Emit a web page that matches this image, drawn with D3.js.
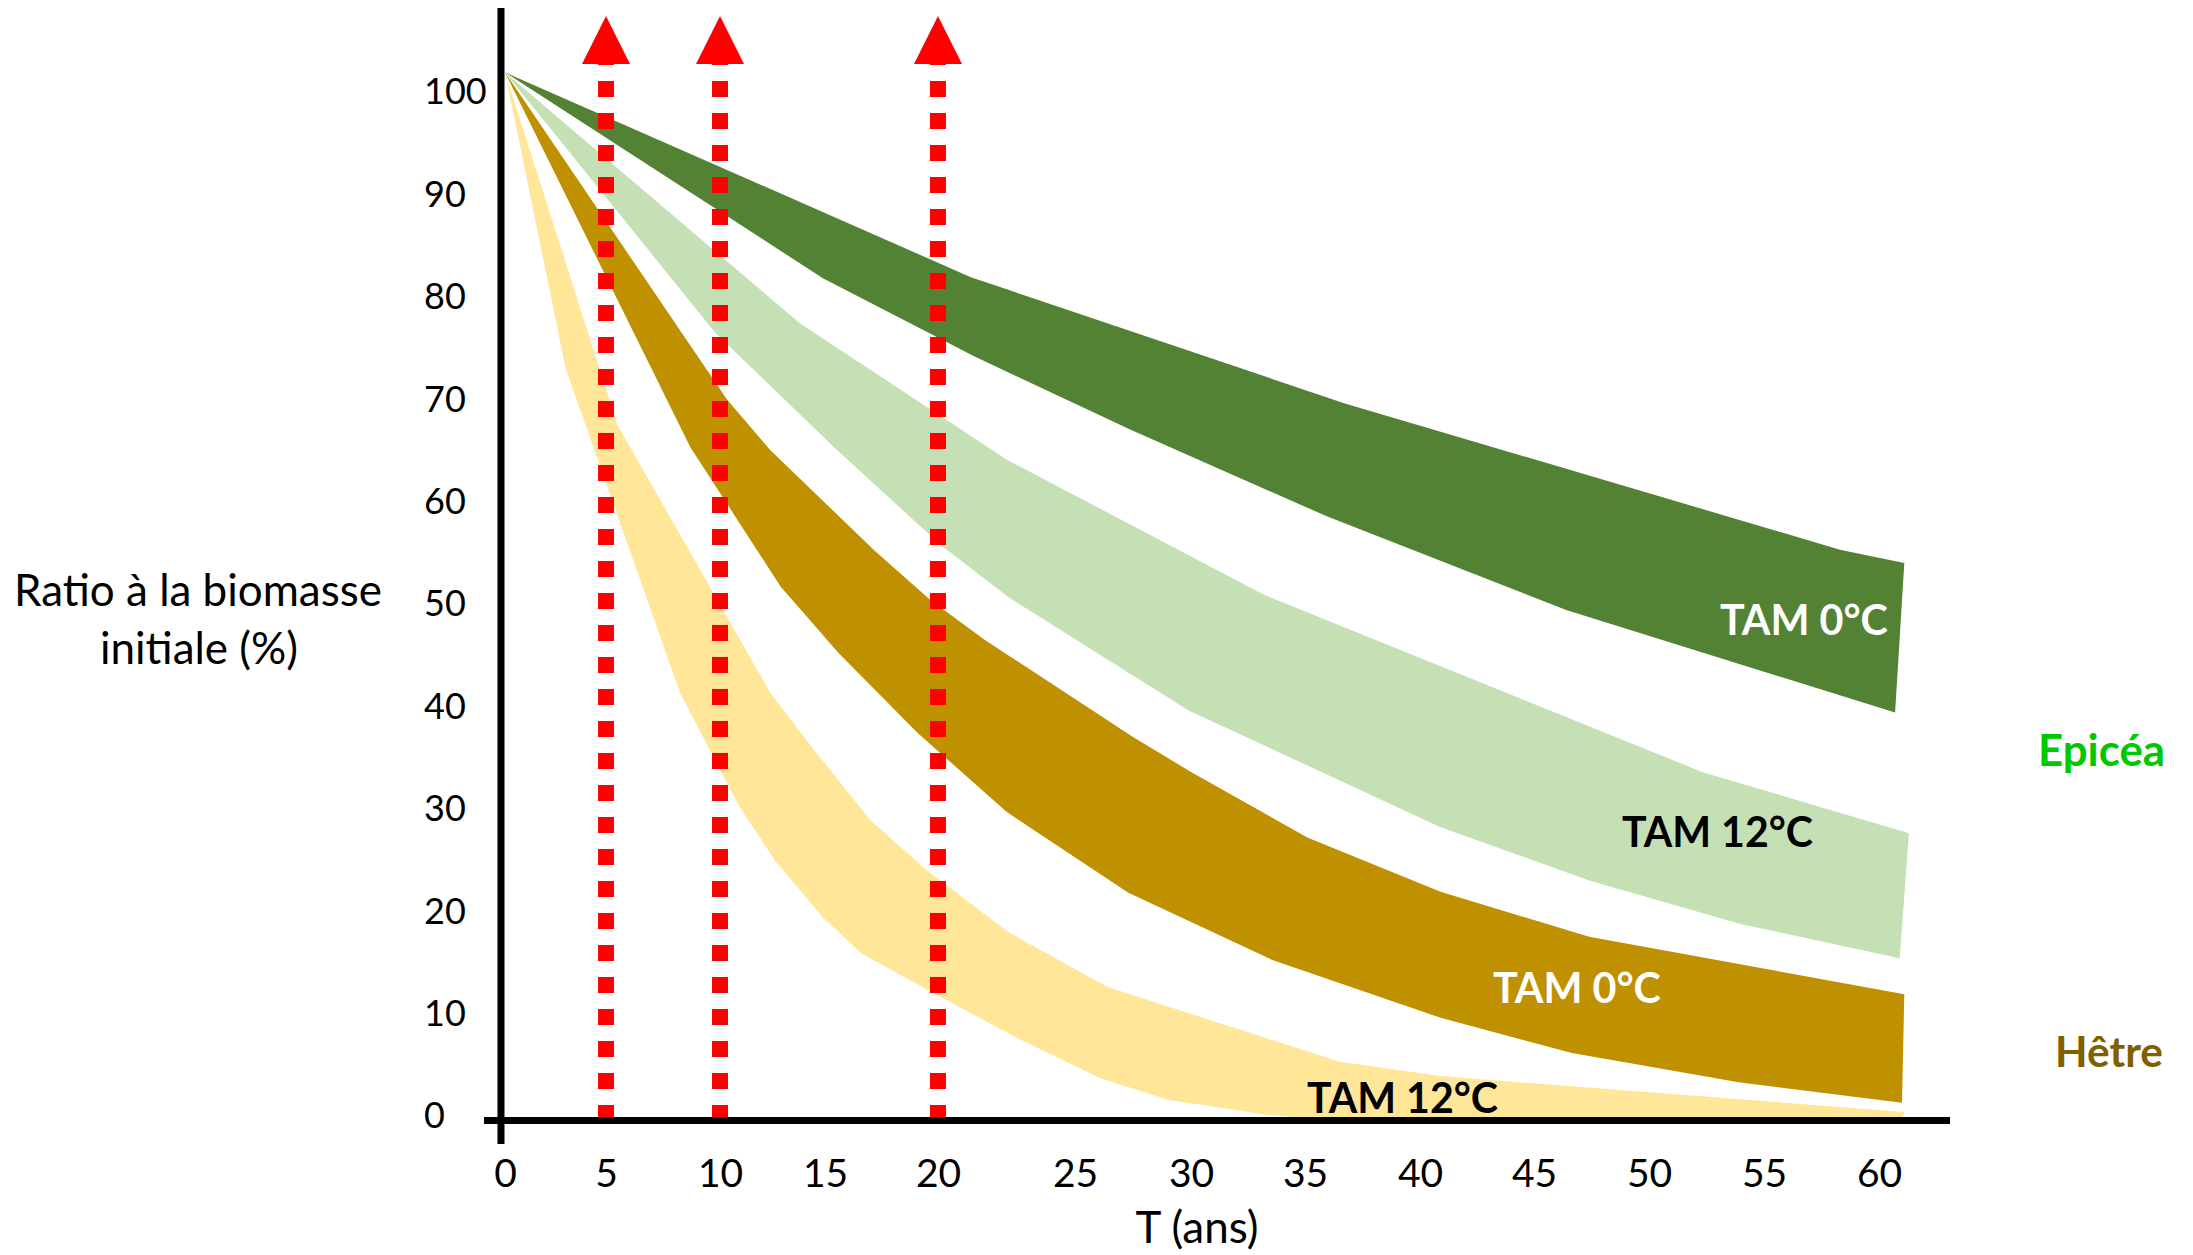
<!DOCTYPE html>
<html>
<head>
<meta charset="utf-8">
<script src="https://cdn.jsdelivr.net/npm/d3@7"></script>
<style>
  body { margin: 0; background: #ffffff; }
  svg { display: block; }
</style>
</head>
<body>
<svg id="chart" width="2193" height="1255"></svg>
<script>
// ---------------- DATA ----------------
const xTicks = [0, 5, 10, 15, 20, 25, 30, 35, 40, 45, 50, 55, 60];
const yTicks = [0, 10, 20, 30, 40, 50, 60, 70, 80, 90, 100];
const markerYears = [5, 10, 20];

// [T (ans), ratio %] — upper and lower edges of each range band
const epicea0Upper = [[0, 101.8], [21.2, 81.8], [36.7, 69.5], [58.3, 55.2], [61.1, 53.9]];
const epicea0Lower = [[0, 101.8], [14.9, 81.7], [21.3, 74.1], [27.4, 66.9], [36.0, 58.4], [46.4, 49.3], [60.7, 39.3]];

const epicea12Upper = [[0, 101.8], [13.8, 77.3], [22.5, 64.0], [33.2, 50.8], [52.3, 33.5], [61.3, 27.5]];
const epicea12Lower = [[0, 101.8], [9.8, 76.35], [15.4, 65.2], [20.1, 55.65], [22.6, 50.5], [29.9, 39.5], [40.9, 28.1], [47.4, 22.9], [53.9, 18.7], [60.9, 15.3]];

const hetre0Upper = [[0, 101.8], [10.35, 69.8], [12.4, 64.9], [17.2, 55.1], [19.65, 50.3], [21.7, 46.4], [27.5, 36.9], [30.0, 33.5], [35.1, 27.1], [40.9, 21.8], [47.4, 17.4], [61.1, 11.8]];
const hetre0Lower = [[0, 101.8], [8.7, 65.2], [12.9, 51.55], [15.6, 45.1], [19.1, 37.3], [22.5, 29.6], [27.3, 21.7], [33.6, 15.1], [40.9, 9.5], [46.65, 6.05], [53.9, 3.2], [61.0, 1.2]];

const hetre12Upper = [[0, 101.8], [5.5, 67.4], [12.4, 41.2], [14.5, 35.6], [17.0, 28.8], [19.5, 23.9], [22.6, 17.8], [26.4, 12.5], [36.5, 5.2], [40.9, 3.8], [61.1, 0.3]];
const hetre12Lower = [[0, 101.8], [3.0, 72.9], [8.25, 41.2], [10.9, 30.2], [12.6, 24.9], [14.9, 19.3], [16.6, 15.8], [19.8, 11.9], [22.9, 7.5], [26.1, 3.6], [29.0, 1.5], [33.4, 0], [36.1, -0.5], [61.0, -0.5]];

const bandLabels = ["TAM 0°C", "TAM 12°C", "TAM 0°C", "TAM 12°C"];
const speciesLabels = ["Epicéa", "Hêtre"];
const yTitleLines = ["Ratio à la biomasse", "initiale (%)"];
const xTitle = "T (ans)";

// ---------------- CHART ----------------
const FONT = "Lato, 'Open Sans', 'DejaVu Sans', sans-serif";
const svg = d3.select("#chart");

const x = d3.scaleLinear()
  .domain(xTicks)
  .range([505, 606, 720, 825, 938, 1075, 1191, 1305, 1420, 1534, 1649, 1764, 1879]);
const y = d3.scaleLinear().domain([0, 100]).range([1115, 90.8]);

const line = d3.line().x(d => x(d[0])).y(d => y(d[1]));

const bands = [
  { upper: epicea0Upper, lower: epicea0Lower, color: "#548235" },
  { upper: epicea12Upper, lower: epicea12Lower, color: "#C5E0B4" },
  { upper: hetre0Upper, lower: hetre0Lower, color: "#BF9000" },
  { upper: hetre12Upper, lower: hetre12Lower, color: "#FFE699" }
];

svg.append("g").selectAll("path")
  .data(bands)
  .join("path")
  .attr("d", b => line(b.upper.concat(b.lower.slice().reverse())) + "Z")
  .attr("fill", b => b.color);

// red dotted markers with arrow heads
const mk = svg.append("g");
markerYears.forEach(yr => {
  const px = x(yr);
  mk.append("line")
    .attr("x1", px).attr("x2", px)
    .attr("y1", 1121).attr("y2", 64)
    .attr("stroke", "#FF0000")
    .attr("stroke-width", 16)
    .attr("stroke-dasharray", "16 16");
  mk.append("path")
    .attr("d", `M${px - 24},64 L${px},16 L${px + 24},64 Z`)
    .attr("fill", "#FF0000");
});

// axis lines
svg.append("line").attr("x1", 501).attr("x2", 501).attr("y1", 8).attr("y2", 1144)
  .attr("stroke", "#000").attr("stroke-width", 7);
svg.append("line").attr("x1", 484).attr("x2", 1950).attr("y1", 1120.5).attr("y2", 1120.5)
  .attr("stroke", "#000").attr("stroke-width", 7);

// y tick labels
const gy = svg.append("g").attr("transform", "translate(501,0)")
  .call(d3.axisLeft(y).tickValues(yTicks).tickSize(0).tickFormat(d3.format("d")));
gy.select(".domain").remove();
gy.attr("font-family", FONT).attr("font-size", 36);
gy.selectAll("text")
  .attr("x", -77).attr("dy", "0.36em")
  .attr("text-anchor", "start").attr("fill", "#000");

// x tick labels
const gx = svg.append("g").attr("transform", "translate(0,1120.5)")
  .call(d3.axisBottom(x).tickValues(xTicks).tickSize(0).tickFormat(d3.format("d")));
gx.select(".domain").remove();
gx.attr("font-family", FONT).attr("font-size", 39);
gx.selectAll("text").attr("y", 66.5).attr("dy", 0).attr("fill", "#000");

function fitWidth(sel, target) {
  const fs = parseFloat(sel.attr("font-size"));
  const w = sel.node().getBBox().width;
  if (w > 0) sel.attr("font-size", fs * target / w);
  return parseFloat(sel.attr("font-size"));
}

// axis titles
const yt1 = svg.append("text").attr("x", 198).attr("y", 606)
  .attr("text-anchor", "middle").attr("font-family", FONT).attr("font-size", 44)
  .attr("fill", "#000").text(yTitleLines[0]);
const tfs = fitWidth(yt1, 368);
svg.append("text").attr("x", 199).attr("y", 664)
  .attr("text-anchor", "middle").attr("font-family", FONT).attr("font-size", tfs)
  .attr("fill", "#000").text(yTitleLines[1]);
svg.append("text").attr("x", 1197).attr("y", 1243)
  .attr("text-anchor", "middle").attr("font-family", FONT).attr("font-size", tfs)
  .attr("fill", "#000").text(xTitle);

// band labels
const labelSpecs = [
  { x: 1720, y: 635, w: 168, fill: "#FFFFFF" },
  { x: 1622, y: 847, w: 191, fill: "#000000" },
  { x: 1493, y: 1003, w: 168, fill: "#FFFFFF" },
  { x: 1307, y: 1113, w: 191, fill: "#000000" }
];
let boldSize = 44;
bandLabels.forEach((t, i) => {
  const s = labelSpecs[i];
  const el = svg.append("text").attr("x", s.x).attr("y", s.y)
    .attr("font-family", FONT).attr("font-weight", 700).attr("font-size", 44)
    .attr("fill", s.fill).text(t);
  const fs = fitWidth(el, s.w);
  if (i === 0) boldSize = fs;
});

const speciesSpecs = [
  { x: 2038, y: 766, w: 127, fill: "#00C800" },
  { x: 2055, y: 1067, w: 108, fill: "#7F6000" }
];
speciesLabels.forEach((t, i) => {
  const s = speciesSpecs[i];
  const el = svg.append("text").attr("x", s.x).attr("y", s.y)
    .attr("font-family", FONT).attr("font-weight", 700).attr("font-size", boldSize)
    .attr("fill", s.fill).text(t);
  fitWidth(el, s.w);
});
</script>
</body>
</html>
